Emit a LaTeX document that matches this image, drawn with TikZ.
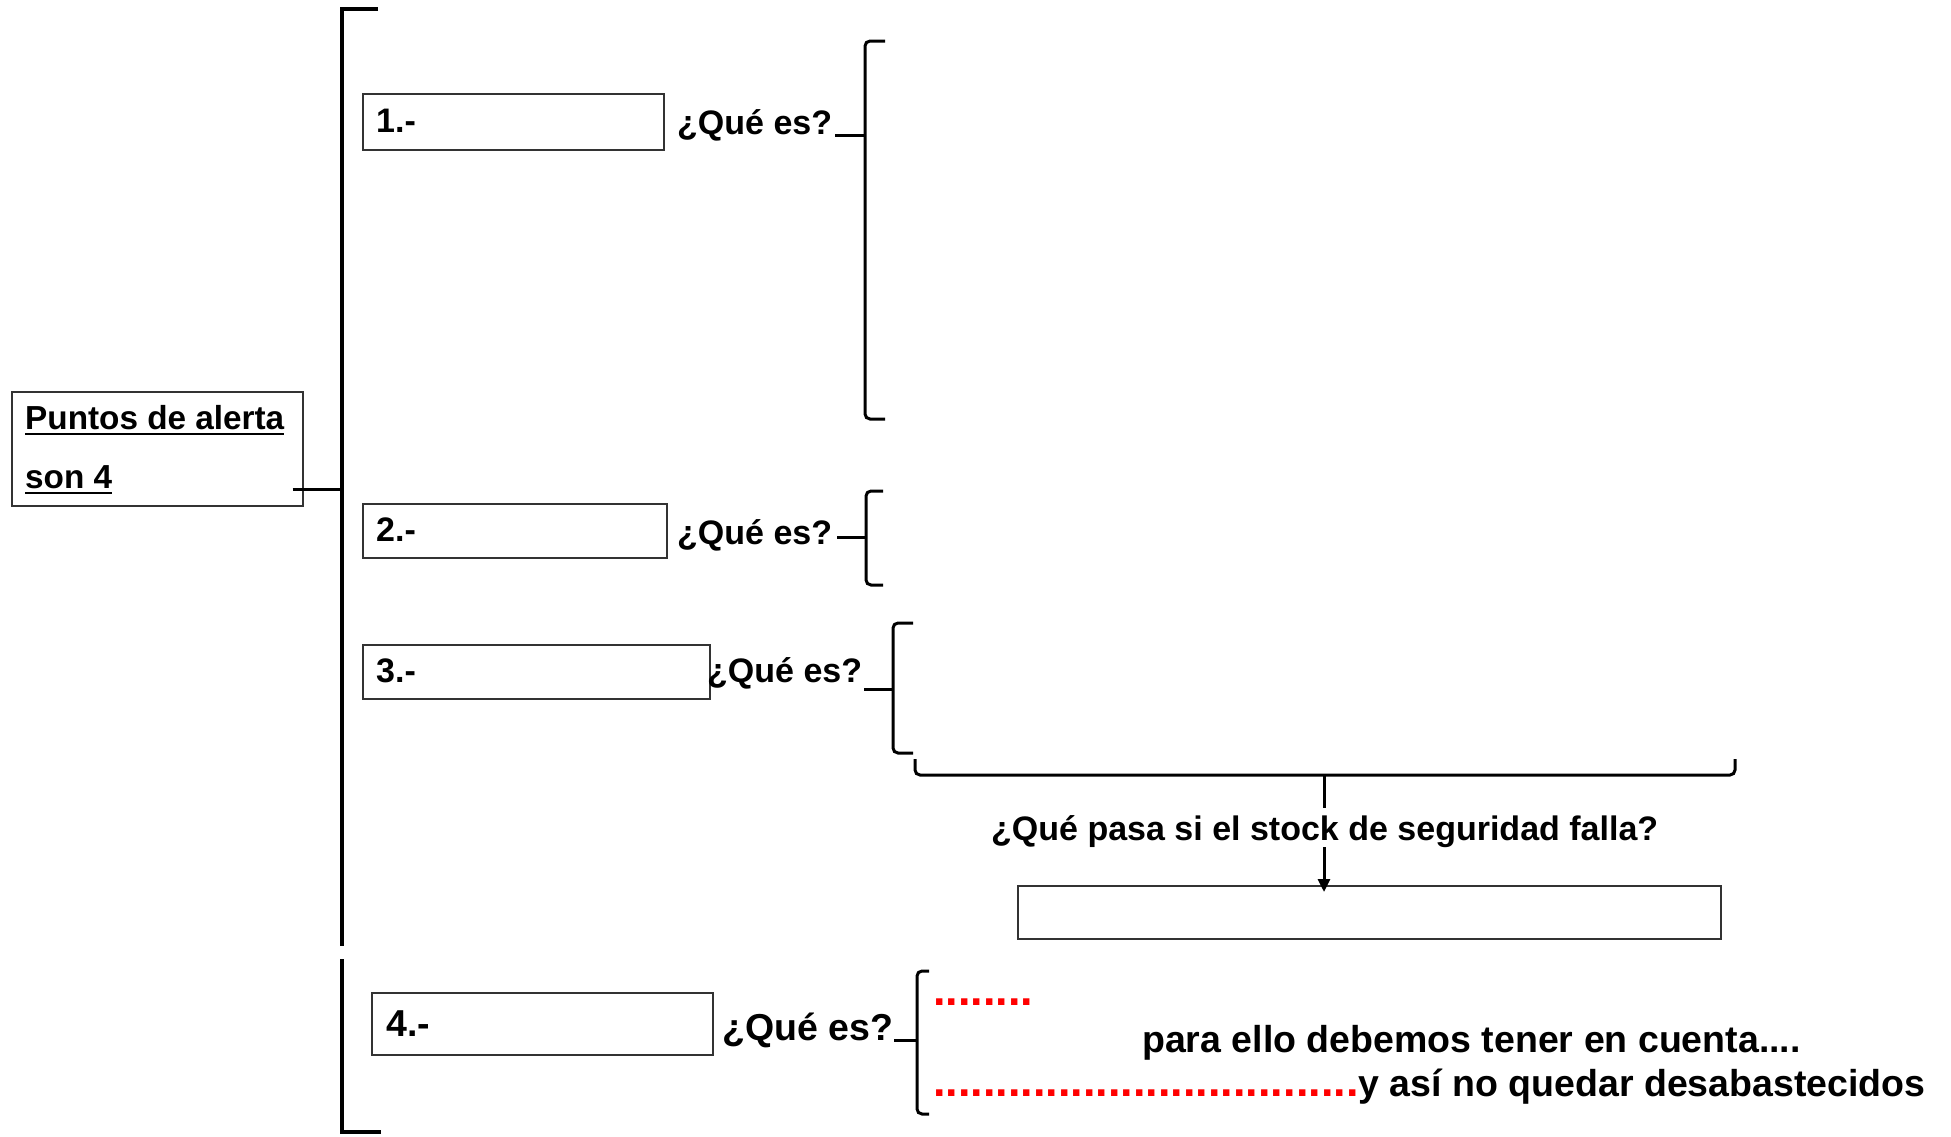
\documentclass[tikz,border=0pt]{standalone}
\usepackage{fontspec}
\setmainfont{Liberation Sans}
\usetikzlibrary{arrows.meta}
\begin{document}
\begin{tikzpicture}[x=1pt,y=-1pt,
  box/.style={draw=black!80, line width=1.5pt, inner sep=0, anchor=north west},
  txt/.style={font=\bfseries\fontsize{34}{40}\selectfont, inner sep=0, anchor=base west},
  bigtxt/.style={font=\bfseries\fontsize{37.5}{44}\selectfont, inner sep=0, anchor=base west},
  dots/.style={font=\bfseries\fontsize{45}{50}\selectfont, inner sep=0, anchor=base west, text=red},
  bracelines/.style={line width=3pt, rounded corners=5pt},
  conn/.style={line width=3pt},
  heavy/.style={line width=3.5pt}]
\useasboundingbox[fill=white] (0,0) rectangle (1951,1136);

% main box
\node[box, minimum width=291, minimum height=114] (main) at (11,391) {};
\node[txt, font=\bfseries\fontsize{33.3}{40}\selectfont] (m1) at (25,429) {Puntos de alerta};
\node[txt, font=\bfseries\fontsize{33.3}{40}\selectfont] (m2) at (25,488) {son 4};
\draw[line width=2.5pt] ([yshift=-5pt]m1.base west) -- ([yshift=-5pt]m1.base east);
\draw[line width=2.5pt] ([yshift=-5pt]m2.base west) -- ([yshift=-5pt]m2.base east);

% big bracket
\coordinate (bigtop) at (342,9);
\coordinate (bigbot) at (342,946);
\coordinate (bigjoin) at (342,489);
\coordinate (lowtop) at (342,959);
\coordinate (lowbot) at (342,1132);
\draw[heavy] ([xshift=36pt]bigtop) -- (bigtop) -- (bigbot);
\draw[heavy] (lowtop) -- (lowbot) -- ([xshift=39pt]lowbot);
\draw[conn] ([xshift=-11pt]main.east |- bigjoin) -- (bigjoin);

% item 1
\node[box, minimum width=301, minimum height=56] (b1) at (362,93) {};
\node[txt] (n1) at (376,132) {1.-};
\node[txt] (q1) at (677,134) {¿Qué es?};
\coordinate (br1top) at (865,41);
\coordinate (br1mid) at (865,135);
\coordinate (br1bot) at (865,419);
\draw[bracelines] ([xshift=20pt]br1top) -- (br1top) -- (br1bot) -- ([xshift=20pt]br1bot);
\draw[conn] ([xshift=3pt]q1.east |- br1mid) -- (br1mid);

% item 2
\node[box, minimum width=304, minimum height=54] (b2) at (362,503) {};
\node[txt] (n2) at (376,541) {2.-};
\node[txt] (q2) at (677,544) {¿Qué es?};
\coordinate (br2top) at (866,491);
\coordinate (br2mid) at (866,537);
\coordinate (br2bot) at (866,585);
\draw[bracelines] ([xshift=17pt]br2top) -- (br2top) -- (br2bot) -- ([xshift=17pt]br2bot);
\draw[conn] ([xshift=5pt]q2.east |- br2mid) -- (br2mid);

% item 3
\node[box, minimum width=347, minimum height=54] (b3) at (362,644) {};
\node[txt] (n3) at (376,682) {3.-};
\node[txt] (q3) at (707,682) {¿Qué es?};
\coordinate (br3top) at (893,623);
\coordinate (br3mid) at (893,689);
\coordinate (br3bot) at (893,753);
\draw[bracelines] ([xshift=20pt]br3top) -- (br3top) -- (br3bot) -- ([xshift=20pt]br3bot);
\draw[conn] ([xshift=2pt]q3.east |- br3mid) -- (br3mid);

% horizontal brace
\coordinate (hl) at (915,759);
\coordinate (hr) at (1735,759);
\coordinate (hmid) at (1324,775);
\draw[bracelines] (hl) -- (hl |- hmid) -- (hr |- hmid) -- (hr);
\draw[conn] (hmid) -- ++(0,33);
\node[txt] (q5) at (991,840) {¿Qué pasa si el stock de seguridad falla?};
\node[box, minimum width=703, minimum height=53] (b5) at (1017,885) {};
\draw[line width=3pt, -{Triangle[length=13pt,width=12pt]}] (hmid |- q5.south) -- ([yshift=-7pt]hmid |- b5.north);

% item 4
\node[box, minimum width=341, minimum height=62] (b4) at (371,992) {};
\node[bigtxt] (n4) at (386,1036) {4.-};
\node[bigtxt] (q4) at (722,1040) {¿Qué es?};
\coordinate (br4top) at (917,971);
\coordinate (br4mid) at (917,1040);
\coordinate (br4bot) at (917,1114);
\draw[bracelines] ([xshift=12pt]br4top) -- (br4top) -- (br4bot) -- ([xshift=12pt]br4bot);
\draw[conn] ([xshift=1pt]q4.east |- br4mid) -- (br4mid);

\node[dots] (d1) at (933,1005) {........};
\node[bigtxt] (p1) at (1142,1052) {para ello debemos tener en cuenta....};
\node[dots] (d2) at (933,1096) {..................................};
\node[bigtxt] (p2) at (d2.base east) {y así no quedar desabastecidos};
\end{tikzpicture}
\end{document}
